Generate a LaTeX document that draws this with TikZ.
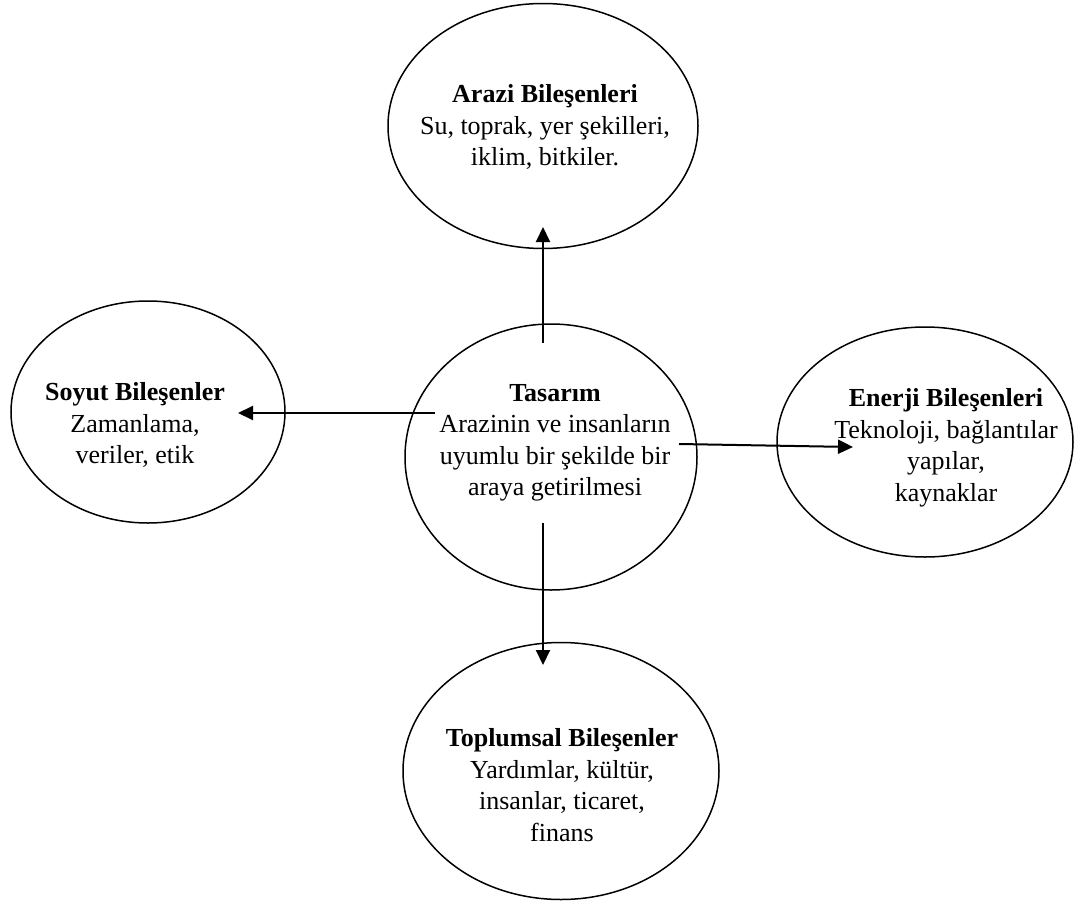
\documentclass[tikz,border=0pt]{standalone}
\usepackage{fontspec}
\setmainfont{Liberation Serif}
\usetikzlibrary{shapes.geometric,arrows.meta}
\begin{document}
\begin{tikzpicture}[x=1pt,y=-1pt,
  ell/.style={draw=black,line width=1.5pt,ellipse,inner sep=0pt,outer sep=0pt},
  txt/.style={align=center,inner sep=0pt,font=\fontsize{26}{31.5}\selectfont},
  arr/.style={line width=2pt,-{Triangle[length=15pt,width=14pt]}}]
\useasboundingbox (0,0) rectangle (1080,905);
\fill[white] (0,0) rectangle (1080,905);
% ellipses
\node[ell,minimum width=310pt,minimum height=245pt] (arazi) at (543,126) {};
\node[ell,minimum width=274pt,minimum height=222pt] (soyut) at (148,412) {};
\node[ell,minimum width=292pt,minimum height=266pt] (tasarim) at (551,457) {};
\node[ell,minimum width=296pt,minimum height=230pt] (enerji) at (925,442) {};
\node[ell,minimum width=316pt,minimum height=257pt] (toplum) at (561,771) {};
% texts
\node[txt] (araziT) at (545,127) {\textbf{Arazi Bileşenleri}\\Su, toprak, yer şekilleri,\\iklim, bitkiler.};
\node[txt] (soyutT) at (135,425) {\textbf{Soyut Bileşenler}\\Zamanlama,\\veriler, etik};
\node[txt] (tasarimT) at (555,443) {\textbf{Tasarım}\\Arazinin ve insanların\\uyumlu bir şekilde bir\\araya getirilmesi};
\node[txt] (enerjiT) at (946,448) {\textbf{Enerji Bileşenleri}\\Teknoloji, bağlantılar\\yapılar,\\kaynaklar};
\node[txt] (toplumT) at (562,785) {\textbf{Toplumsal Bileşenler}\\Yardımlar, kültür,\\insanlar, ticaret,\\finans};
% arrow end points
\coordinate (upS) at (543,343);
\coordinate (upE) at (543,227);
\coordinate (lS) at (435,413);
\coordinate (lE) at (238,413);
\coordinate (rS) at (679,444);
\coordinate (rE) at (853,447);
\coordinate (dS) at (543,523);
\coordinate (dE) at (543,665);
\draw[arr] (upS) -- (upE);
\draw[arr] (lS) -- (lE);
\draw[arr] (rS) -- (rE);
\draw[arr] (dS) -- (dE);
\end{tikzpicture}
\end{document}
